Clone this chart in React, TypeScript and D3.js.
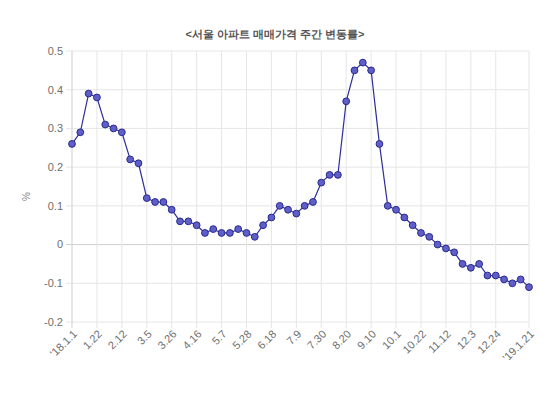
import React from 'react';
import * as d3 from 'd3';

// weekly change (%) of Seoul apartment sale prices, 2018.1.1 ~ 2019.1.21
const values = [
  0.26, 0.29, 0.39, 0.38, 0.31, 0.30, 0.29, 0.22, 0.21, 0.12,
  0.11, 0.11, 0.09, 0.06, 0.06, 0.05, 0.03, 0.04, 0.03, 0.03,
  0.04, 0.03, 0.02, 0.05, 0.07, 0.10, 0.09, 0.08, 0.10, 0.11,
  0.16, 0.18, 0.18, 0.37, 0.45, 0.47, 0.45, 0.26, 0.10, 0.09,
  0.07, 0.05, 0.03, 0.02, 0.00, -0.01, -0.02, -0.05, -0.06, -0.05,
  -0.08, -0.08, -0.09, -0.10, -0.09, -0.11,
];

const tickIndex = [0, 3, 6, 9, 12, 15, 18, 21, 24, 27, 30, 33, 36, 39, 42, 45, 48, 51, 55];
const tickLabels = [
  "'18.1.1", '1.22', '2.12', '3.5', '3.26', '4.16', '5.7', '5.28', '6.18', '7.9',
  '7.30', '8.20', '9.10', '10.1', '10.22', '11.12', '12.3', '12.24', "'19.1.21",
];
const yTicks = [0.5, 0.4, 0.3, 0.2, 0.1, 0, -0.1, -0.2];

const title = '<서울 아파트 매매가격 주간 변동률>';

const W = 550;
const H = 395;
const margin = { left: 72, right: 21, top: 51, bottom: 73 };

const App = () => {
  const x = d3.scaleLinear()
    .domain([0, values.length - 1])
    .range([margin.left, W - margin.right]);
  const y = d3.scaleLinear()
    .domain([-0.2, 0.5])
    .range([H - margin.bottom, margin.top]);

  const line = d3.line<number>()
    .x((d, i) => x(i))
    .y(d => y(d));

  const font = '"Liberation Sans", Arial, sans-serif';

  return (
    <svg width={W} height={H} style={{ position: 'absolute', left: 0, top: 0, background: '#fff' }}
      fontFamily={font}>
      <text x={275} y={38} textAnchor="middle" fontSize={11} fill="#555" fontWeight="bold">{title}</text>

      {/* horizontal grid */}
      {yTicks.map(t => (
        <g key={t}>
          <line x1={margin.left - 6} x2={W - margin.right} y1={y(t)} y2={y(t)}
            stroke={t === 0 ? '#cfcfcf' : '#e6e6e6'} strokeWidth={1} />
          <text x={margin.left - 9} y={y(t)} dy="0.35em" textAnchor="end" fontSize={11} fill="#6e6e6e">{t}</text>
        </g>
      ))}

      {/* vertical grid */}
      {tickIndex.map((idx, i) => (
        <g key={idx}>
          <line x1={x(idx)} x2={x(idx)} y1={margin.top} y2={H - margin.bottom + 6}
            stroke={i === 0 ? '#cfcfcf' : '#e6e6e6'} strokeWidth={1} />
          <text transform={`translate(${x(idx) + 3},${H - margin.bottom + 10}) rotate(-45)`}
            textAnchor="end" dy="0.35em" fontSize={11} fill="#6e6e6e">{tickLabels[i]}</text>
        </g>
      ))}

      <text transform={`translate(30,${(margin.top + H - margin.bottom) / 2 + 10}) rotate(-90)`}
        textAnchor="middle" fontSize={10} fill="#888">%</text>

      <path d={line(values) ?? ''} fill="none" stroke="#2e2e9a" strokeWidth={1.2} />
      {values.map((v, i) => (
        <circle key={i} cx={x(i)} cy={y(v)} r={3.4} fill="#5f5fc9" stroke="#2a2a8c" strokeWidth={1} />
      ))}
    </svg>
  );
};

export default App;
